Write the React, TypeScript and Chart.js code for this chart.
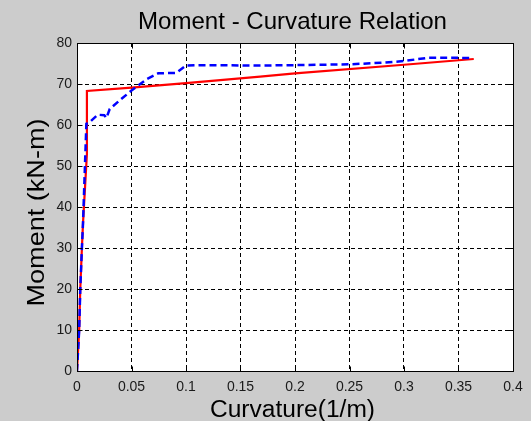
import React, { useEffect, useRef } from "react";
import { Chart, registerables } from "chart.js";

Chart.register(...registerables);

const chartTitle = "Moment - Curvature Relation";
const xLabel = "Curvature(1/m)";
const yLabel = "Moment (kN-m)";

const curvatureRed = [0, 0.002, 0.003, 0.0045, 0.0055, 0.0091, 0.0091, 0.05, 0.1, 0.168, 0.2, 0.3, 0.364];
const momentRed = [0, 10, 20, 30, 36, 53, 68.3, 69.1, 70.2, 71.8, 72.6, 74.7, 76.1];

const curvatureBlue = [0, 0.002, 0.003, 0.0045, 0.0055, 0.0086, 0.0116, 0.019, 0.025, 0.027, 0.03, 0.04, 0.05, 0.064, 0.0745, 0.091, 0.1, 0.113, 0.168, 0.2, 0.25, 0.281, 0.3, 0.322, 0.345, 0.363];
const momentBlue = [0, 10, 20, 30, 36, 60.3, 60.7, 62.5, 62.4, 61.7, 63.9, 66.2, 68.4, 71.2, 72.6, 72.7, 74.5, 74.6, 74.5, 74.6, 74.8, 75.2, 75.6, 76.4, 76.4, 76.3];

const xMin = 0, xMax = 0.4, xStep = 0.05;
const yMin = 0, yMax = 80, yStep = 10;

const FONT = 'Arial, "Liberation Sans", sans-serif';

function stretchedText(ctx: CanvasRenderingContext2D, text: string, size: number, width: number) {
  ctx.font = `${size}px ${FONT}`;
  const w = ctx.measureText(text).width;
  ctx.save();
  ctx.scale(width / w, 1);
  ctx.fillText(text, 0, 0);
  ctx.restore();
}

export default function App() {
  const ref = useRef<HTMLCanvasElement | null>(null);
  useEffect(() => {
    const canvas = ref.current;
    if (!canvas) return;
    const decor = {
      id: "decor",
      beforeDraw(chart: any) {
        const { ctx, chartArea } = chart;
        ctx.save();
        ctx.fillStyle = "#cccccc";
        ctx.fillRect(0, 0, chart.width, chart.height);
        ctx.fillStyle = "#ffffff";
        ctx.fillRect(chartArea.left, chartArea.top, chartArea.right - chartArea.left, chartArea.bottom - chartArea.top);
        ctx.restore();
      },
      afterDraw(chart: any) {
        const { ctx, chartArea } = chart;
        const L = Math.round(chartArea.left) + 0.5;
        const T = Math.round(chartArea.top) + 0.5;
        const R = Math.round(chartArea.right) + 0.5;
        const B = Math.round(chartArea.bottom) + 0.5;
        ctx.save();
        ctx.strokeStyle = "#000";
        ctx.lineWidth = 1;
        ctx.setLineDash([]);
        ctx.strokeRect(L, T, R - L, B - T);
        const xs = chart.scales.x;
        const ys = chart.scales.y;
        ctx.beginPath();
        xs.ticks.forEach((t: any) => {
          const px = Math.round(xs.getPixelForValue(t.value)) + 0.5;
          ctx.moveTo(px, B); ctx.lineTo(px, B - 5);
          ctx.moveTo(px, T); ctx.lineTo(px, T + 5);
        });
        ys.ticks.forEach((t: any) => {
          const py = Math.round(ys.getPixelForValue(t.value)) + 0.5;
          ctx.moveTo(L, py); ctx.lineTo(L + 5, py);
          ctx.moveTo(R, py); ctx.lineTo(R - 5, py);
        });
        ctx.stroke();
        ctx.fillStyle = "#000";
        ctx.textAlign = "left";
        ctx.textBaseline = "alphabetic";
        ctx.save();
        ctx.translate(138, 28.5);
        stretchedText(ctx, chartTitle, 24, 309);
        ctx.restore();
        ctx.save();
        ctx.translate(210, 416.5);
        stretchedText(ctx, xLabel, 23.5, 165);
        ctx.restore();
        ctx.save();
        ctx.translate(43.5, 306.5);
        ctx.rotate(-Math.PI / 2);
        stretchedText(ctx, yLabel, 24.5, 188);
        ctx.restore();
        ctx.restore();
      },
    };
    const chart = new Chart(canvas, {
      type: "scatter",
      data: {
        datasets: [
          {
            data: curvatureBlue.map((x, i) => ({ x, y: momentBlue[i] })),
            showLine: true,
            borderColor: "#0000ff",
            borderWidth: 2.5,
            borderDash: [7, 4],
            pointRadius: 0,
            fill: false,
          },
          {
            data: curvatureRed.map((x, i) => ({ x, y: momentRed[i] })),
            showLine: true,
            borderColor: "#ff0000",
            borderWidth: 2.2,
            pointRadius: 0,
            fill: false,
          },
        ],
      },
      options: {
        responsive: false,
        animation: false,
        layout: { padding: { top: 43, right: 18, left: 0, bottom: 0 } },
        plugins: { legend: { display: false }, tooltip: { enabled: false }, title: { display: false } },
        scales: {
          x: {
            type: "linear",
            min: xMin,
            max: xMax,
            afterFit: (s: any) => { s.height = 50; },
            afterBuildTicks: (s: any) => {
              const t = [];
              for (let v = xMin; v <= xMax + 1e-9; v += xStep) t.push({ value: Math.round(v * 100) / 100 });
              s.ticks = t;
            },
            ticks: {
              font: { family: FONT, size: 14 },
              color: "#1a1a1a",
              padding: 8,
              maxRotation: 0,
              callback: (v: any) => String(Math.round(v * 100) / 100),
            },
            grid: { color: "#000", lineWidth: 1, drawTicks: false },
            border: { display: true, color: "#000", dash: [4, 3] },
          },
          y: {
            type: "linear",
            min: yMin,
            max: yMax,
            afterFit: (s: any) => { s.width = 77; },
            ticks: {
              stepSize: yStep,
              font: { family: FONT, size: 14 },
              color: "#1a1a1a",
              padding: 5,
            },
            grid: { color: "#000", lineWidth: 1, drawTicks: false },
            border: { display: true, color: "#000", dash: [4, 3] },
          },
        },
      },
      plugins: [decor],
    } as any);
    return () => chart.destroy();
  }, []);
  return (
    <div style={{ position: "absolute", left: 0, top: 0, width: 531, height: 421, background: "#cccccc" }}>
      <canvas ref={ref} width={531} height={421} style={{ display: "block" }} />
    </div>
  );
}
